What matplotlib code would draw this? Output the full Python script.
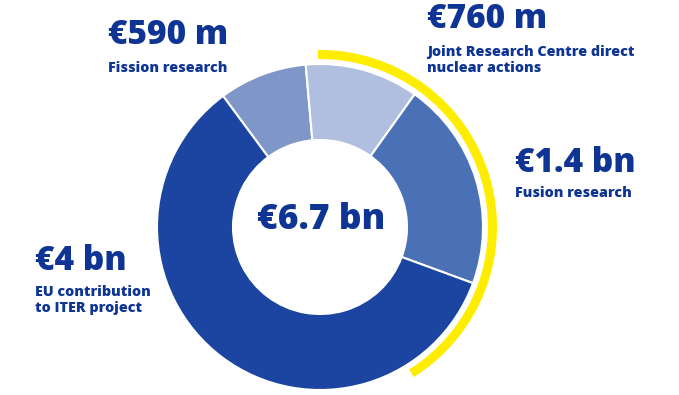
import matplotlib.pyplot as plt
from matplotlib.patches import Wedge

# budget shares in bn EUR, drawn clockwise from the top-left
labels = ['Fission research', 'Joint Research Centre direct\nnuclear actions',
          'Fusion research', 'EU contribution\nto ITER project']
amounts = [0.59, 0.76, 1.4, 4.0]
amount_text = ['€590 m', '€760 m', '€1.4 bn', '€4 bn']
total_text = '€6.7 bn'
colors = ['#7e97c8', '#b0bfdf', '#4a70b5', '#1b45a0']

navy = '#0e3593'
yellow = '#ffed00'

plt.rcParams['font.family'] = ['Open Sans', 'DejaVu Sans']

fig = plt.figure(figsize=(6.79, 3.95), dpi=100)
ax = fig.add_axes([0, 0, 1, 1])

cx, cy = 320, 168
ax.pie(amounts, radius=163, center=(cx, cy), startangle=126.5, counterclock=False,
       colors=colors, wedgeprops=dict(width=76, edgecolor='white', linewidth=1.5))

# yellow highlight arc on the right side
ax.add_patch(Wedge((cx, cy), 177, -58, 90.7, width=9, facecolor=yellow, edgecolor='none'))

# label positions (x, baseline of amount, baseline of description)
label_pos = [(108, 351, 323), (427, 367, 323), (515, 223, 198), (35, 125, 83)]
for (x, yb, yd), amt, lab in zip(label_pos, amount_text, labels):
    ax.text(x, yb, amt, color=navy, fontsize=24, fontweight='heavy', va='baseline', ha='left')
    ax.text(x, yd, lab, color=navy, fontsize=10.3, fontweight='heavy', va='baseline', ha='left',
            linespacing=1.2)

ax.text(cx + 1, 166, total_text, color=navy, fontsize=25.5, fontweight='heavy',
        va='baseline', ha='center')

ax.set_xlim(0, 679)
ax.set_ylim(0, 395)
ax.set_aspect('equal')
ax.axis('off')

fig.savefig('out.png', dpi=100, facecolor='white')
